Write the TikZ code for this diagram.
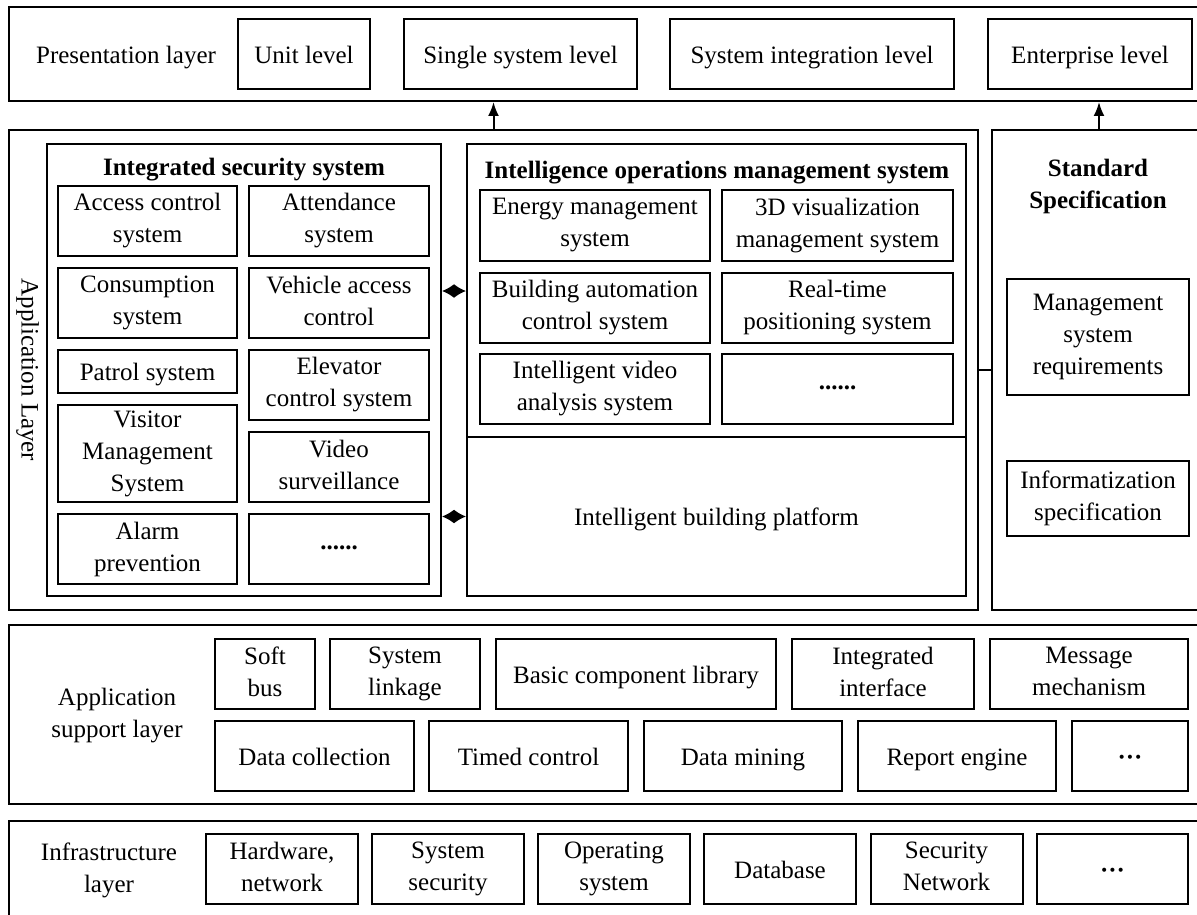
\documentclass[tikz,border=0pt]{standalone}
\usepackage{fontspec}
\setmainfont{Liberation Serif}
\usetikzlibrary{arrows.meta}
\newcommand{\cellstrut}{\rule[-4.6pt]{0pt}{28.6pt}}

\begin{document}
\begin{tikzpicture}[x=1pt, y=-1pt, line width=2pt,
                    every node/.style={font=\fontsize{25}{32}\selectfont, align=center, inner sep=0pt,
                                       execute at begin node=\cellstrut, execute at end node=\cellstrut},
                    cell/.style={draw, minimum height=70pt},
                    up/.style={-{Latex[length=14pt,width=11pt]}},
                    both/.style={{Latex[length=12pt,width=14pt]}-{Latex[length=12pt,width=14pt]}}]
                    \useasboundingbox (0,0) rectangle (1197,915);

                    % presentation layer
                    \node[draw, minimum width=1197pt, minimum height=94pt] (pres) at (607.5,54) {};
                    \node (presl) at (126,54) {Presentation layer};
                    \node[cell, minimum width=132pt] (unit) at (304,54) {Unit level};
                    \node[cell, minimum width=233pt] (single) at (520.5,54) {Single system level};
                    \node[cell, minimum width=284pt] (sysint) at (812,54) {System integration level};
                    \node[cell, minimum width=204pt] (enter) at (1090,54) {Enterprise level};

                    % application layer
                    \node[draw, minimum width=969pt, minimum height=480pt] (app) at (493.5,370) {};
                    \node[rotate=-90] (appl) at (31,370) {Application Layer};
                    \node[draw, minimum width=214pt, minimum height=480pt] (std) at (1099,370) {};

                    \node[draw, minimum width=394pt, minimum height=452pt] (iss) at (244,370) {};
                    \node (isst) at (244,166) {\textbf{Integrated security system}};
                    \node[cell, minimum width=179pt] (access) at (147.5,221) {Access control\\system};
                    \node[cell, minimum width=179pt] (consum) at (147.5,303) {Consumption\\system};
                    \node[cell, minimum width=179pt, minimum height=43pt] (patrol) at (147.5,371.5) {Patrol system};
                    \node[cell, minimum width=179pt, minimum height=97pt] (visitor) at (147.5,453.5) {Visitor\\Management\\System};
                    \node[cell, minimum width=179pt] (alarm) at (147.5,549) {Alarm\\prevention};
                    \node[cell, minimum width=180pt] (attend) at (339,221) {Attendance\\system};
                    \node[cell, minimum width=180pt] (vehicle) at (339,303) {Vehicle access\\control};
                    \node[cell, minimum width=180pt] (elev) at (339,385) {Elevator\\control system};
                    \node[cell, minimum width=180pt] (video) at (339,467) {Video\\surveillance};
                    \node[cell, minimum width=180pt] (issmore) at (339,549) {\raisebox{9pt}{\textbf{......}}};

                    \node[draw, minimum width=499pt, minimum height=293pt] (ioms) at (716.5,290.5) {};
                    \node (iomst) at (717,169) {\textbf{Intelligence operations management system}};
                    \node[cell, minimum width=230pt, minimum height=71pt] (energy) at (595,225.5) {Energy management\\system};
                    \node[cell, minimum width=231pt, minimum height=71pt] (visual) at (837.5,225.5) {3D visualization\\management system};
                    \node[cell, minimum width=230pt] (bauto) at (595,308) {Building automation\\control system};
                    \node[cell, minimum width=231pt] (rtpos) at (837.5,308) {Real-time\\positioning system};
                    \node[cell, minimum width=230pt] (ivideo) at (595,389) {Intelligent video\\analysis system};
                    \node[cell, minimum width=231pt] (iomsmore) at (837.5,389) {\raisebox{9pt}{\textbf{......}}};
                    \node[draw, minimum width=499pt, minimum height=159pt] (plat) at (716.5,516.5) {Intelligent building platform};

                    \node (stdt) at (1098,186) {\textbf{Standard}\\\textbf{Specification}};
                    \node[draw, minimum width=182pt, minimum height=116pt] (mgmt) at (1098,337) {Management\\system\\requirements};
                    \node[draw, minimum width=182pt, minimum height=75pt] (info) at (1098,498.5) {Informatization\\specification};

                    % application support layer
                    \node[draw, minimum width=1197pt, minimum height=179pt] (sup) at (607.5,714.5) {};
                    \node (supl) at (117,716) {Application\\support layer};
                    \node[cell, minimum width=100pt] (soft) at (265,674) {Soft\\bus};
                    \node[cell, minimum width=150pt] (linkage) at (405,674) {System\\linkage};
                    \node[cell, minimum width=280pt] (basic) at (636,674) {Basic component library};
                    \node[cell, minimum width=182pt] (iface) at (883,674) {Integrated\\interface};
                    \node[cell, minimum width=198pt] (msg) at (1089,674) {Message\\mechanism};
                    \node[cell, minimum width=199pt] (collect) at (314.5,756) {Data collection};
                    \node[cell, minimum width=199pt] (timed) at (528.5,756) {Timed control};
                    \node[cell, minimum width=198pt] (mining) at (743,756) {Data mining};
                    \node[cell, minimum width=198pt] (report) at (957,756) {Report engine};
                    \node[cell, minimum width=116pt] (supmore) at (1130,756) {\textbf{···}};

                    % infrastructure layer
                    \node[draw, minimum width=1197pt, minimum height=104pt] (infra) at (607.5,873) {};
                    \node (infral) at (109,870) {Infrastructure\\layer};
                    \node[cell, minimum width=152pt] (hw) at (282,869) {Hardware,\\network};
                    \node[cell, minimum width=152pt] (syssec) at (448,869) {System\\security};
                    \node[cell, minimum width=152pt] (os) at (614,869) {Operating\\system};
                    \node[cell, minimum width=152pt] (db) at (780,869) {Database};
                    \node[cell, minimum width=152pt] (secnet) at (946.5,869) {Security\\Network};
                    \node[cell, minimum width=151pt] (inframore) at (1112.5,869) {\textbf{···}};

                    \coordinate (lk) at (454,291);
                    \draw[up] (app.north) -- (app.north |- pres.south);
                    \draw[up] (std.north) -- (std.north |- pres.south);
                    \draw (app.east) -- (std.west);
                    \draw[both] (lk -| iss.east) -- (lk -| ioms.west);
                    \draw[both] (iss.east |- plat) -- (plat.west);
                \end{tikzpicture}
\end{document}
